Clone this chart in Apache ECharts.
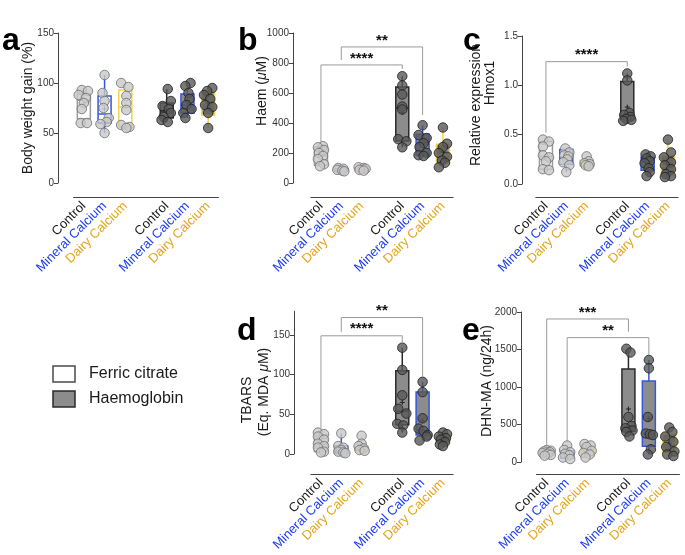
<!DOCTYPE html>
<html><head><meta charset="utf-8">
<script src="https://cdn.jsdelivr.net/npm/echarts@6/dist/echarts.min.js"></script>
<style>html,body{margin:0;padding:0;background:#fff}#c{width:685px;height:555px}</style>
</head><body><div id="c"></div>
<script>
// ---------- categories ----------
const categories = ['Control','Mineral Calcium','Dairy Calcium','','Control','Mineral Calcium','Dairy Calcium'];
const groupSlots = [0,1,2,4,5,6]; // Ferric citrate x3, Haemoglobin x3

// ---------- panel a : Body weight gain (%) ----------
const aPts = [[93,92,88,85,80,74,60,60],[108,90,82,75,65,61,59,50],[100,96,87,80,73,58,56,55],
              [94,82,77,74,70,66,63,61],[100,97,90,84,78,74,70,65],[95,92,88,84,78,76,70,55]];
const aJit = [[-0.1,0.2,-0.25,0.1,0,-0.1,-0.15,0.15],[0,-0.1,0,-0.05,0.2,0.1,-0.2,0],[-0.2,0.15,0.05,0.05,0.05,-0.2,0.2,0.05],
              [0.05,0.2,-0.2,0.1,0.2,-0.15,-0.25,0.05],[0.15,-0.1,0.05,0.1,-0.05,0.2,-0.2,-0.1],[0.2,-0.05,-0.2,0.1,-0.15,0.2,0,0]];
const aBox = [[60,64,83,89,93,79],[50,60,69,87,108,74],[55,56,76,93,100,78],
              [61,65,72,80,94,73],[65,70,78,89,100,82],[55,68,80,91,95,80]];
const aTicks = [0,50,100,150];

// ---------- panel b : Haem (uM) ----------
const bPts = [[245,238,220,200,180,160,125,112],[100,95,88,82,78],[105,100,95,88,82],
              [712,650,590,510,490,292,278,238],[385,320,300,265,240,200,185,180],[370,262,240,200,175,150,135,105]];
const bJit = [[0.1,-0.15,0.15,-0.1,0.1,-0.15,0.15,-0.05],[-0.15,0.1,-0.2,0.05,0.15],[-0.15,0.1,0.2,-0.1,0.1],
              [0,0,0,0,0,-0.2,0.2,0],[0,-0.2,0.2,0.05,-0.15,0.2,-0.2,0.05],[0,0.2,0,-0.2,0.2,-0.05,0.1,-0.2]];
const bBox = [[110,118,180,240,245,184],[75,78,85,95,100,88],[80,82,92,100,105,94],
              [238,280,500,640,712,470],[180,185,260,325,385,260],[105,130,185,258,370,205]];
const bTicks = [0,200,400,600,800,1000];

// ---------- panel c : Relative expression Hmox1 ----------
const cPts = [[0.45,0.43,0.38,0.29,0.27,0.23,0.15,0.14],[0.36,0.32,0.29,0.28,0.25,0.22,0.19,0.12],[0.28,0.23,0.21,0.2,0.19,0.18],
              [1.12,1.05,0.72,0.70,0.68,0.66,0.65,0.64],[0.30,0.28,0.26,0.23,0.21,0.16,0.12,0.08],[0.45,0.32,0.27,0.22,0.19,0.15,0.10,0.08,0.07]];
const cJit = [[-0.15,0.15,-0.15,-0.15,0.15,0,-0.15,0.15],[-0.05,0.15,-0.1,0.1,0.05,-0.15,0.15,0],[0,0.1,-0.1,0.15,-0.05,0.1],
              [0,0,0.1,-0.15,0.15,-0.05,0.2,-0.2],[-0.1,0.15,-0.05,0.1,-0.15,0.05,0.1,-0.05],[0,0.15,-0.2,0.15,-0.15,0.15,-0.1,0.15,-0.15]];
const cBox = [[0.14,0.15,0.28,0.43,0.45,0.29],[0.12,0.20,0.27,0.35,0.36,0.25],[0.18,0.18,0.20,0.24,0.28,0.21],
              [0.64,0.65,0.69,1.04,1.12,0.78],[0.08,0.14,0.22,0.27,0.30,0.20],[0.07,0.08,0.18,0.29,0.45,0.20]];
const cTicks = [0,0.5,1.0,1.5];

// ---------- panel d : TBARS ----------
const dPts = [[27,25,22,18,13,10,8,3,2],[26,10,8,5,3,2,1],[23,13,10,7,5,4],
              [134,106,74,57,51,38,36,27],[91,78,45,32,29,24,22,17],[27,25,22,20,18,15,12,10]];
const dJit = [[-0.15,0.15,-0.15,0.15,-0.15,0.15,-0.15,0.15,0],[0,-0.15,0.1,0,-0.15,0.1,0.2],[0,0,-0.15,0.1,-0.1,0.15],
              [0,0,0,-0.2,0.2,-0.25,0.05,0],[0,0,0,-0.2,0.05,0.25,0.2,-0.15],[0,0.2,-0.2,0.15,-0.1,0.1,-0.15,0]];
const dBox = [[2,3,12,24,27,14],[1,1,3,10,26,8],[3,4,6,9,23,10],
              [27,37,54,105,134,65],[17,24,30,78,91,42],[10,14,19,23,27,19]];
const dTicks = [0,50,100,150];

// ---------- panel e : DHN-MA ----------
const ePts = [[160,150,140,130,120,110,95,85],[220,160,130,110,90,60,40],[240,220,200,150,120,100,60],
              [1510,1460,600,480,450,420,400,340],[1360,1250,600,380,370,360,170,100],[460,400,340,270,200,140,100,80]];
const eJit = [[0,0.2,-0.15,0.15,-0.2,0.05,0.2,-0.1],[0,-0.15,0.15,-0.1,0.1,-0.2,0.15],[-0.15,0.15,-0.05,0.2,-0.2,0.1,-0.1],
              [-0.1,0.1,0,0.15,-0.15,0.2,-0.1,0.05],[0,0,-0.05,-0.15,0.05,0.2,0.1,-0.05],[0,0.15,-0.2,0.2,-0.15,0.25,-0.1,0.2]];
const eBox = [[85,100,125,150,160,124],[40,55,100,150,220,116],[60,80,140,200,240,156],
              [340,410,465,1240,1510,707],[100,210,375,1080,1360,574],[80,130,250,370,460,249]];
const eTicks = [0,500,1000,1500,2000];

// ---------- significance brackets: [fromSlot, toSlot, level, leftEnd, rightEnd] ----------
const bBrackets = [[0,4,787,273,760],[1,5,907,820,453]];
const bStars = ['****','**'];
const cBrackets = [[0,4,1.24,0.52,1.19]];
const cStars = ['****'];
const dBrackets = [[0,4,149,30,141],[1,5,172,154,97]];
const dStars = ['****','**'];
const eBrackets = [[0,4,1907,204,1738],[1,5,1658,271,1427]];
const eStars = ['***','**'];

// ---------- styles ----------
const FONT = '"Liberation Sans", Arial, Helvetica, sans-serif';
const boxFill = ['#ffffff','#ffffff','#ffffff','#8c8c8c','#8c8c8c','#9c998a'];
const boxStroke = ['#9a9a9a','#3556e0','#f2d447','#2a2a2a','#3556e0','#f2d447'];
const ptFe = {color:'#c8c8c8', borderColor:'#6e6e6e', borderWidth:1};
const ptHb = {color:'#595959', borderColor:'#1e1e1e', borderWidth:1};
const labelColors = {Control:'#1a1a1a','Mineral Calcium':'#1d3cf0','Dairy Calcium':'#e3a51b'};

const panels = [
  {pts:aPts, jit:aJit, box:aBox, ticks:aTicks, min:0, max:150, br:[], stars:[], fmt:v=>String(v),
   grid:{left:73.5, top:33, width:145, height:150}, yOff:15.5, xOff:14},
  {pts:bPts, jit:bJit, box:bBox, ticks:bTicks, min:0, max:1000, br:bBrackets, stars:bStars, fmt:v=>String(v),
   grid:{left:310.8, top:33, width:142.3, height:150}, yOff:17.8, xOff:14},
  {pts:cPts, jit:cJit, box:cBox, ticks:cTicks, min:0, max:1.5, br:cBrackets, stars:cStars, fmt:v=>v.toFixed(1),
   grid:{left:535.8, top:36, width:142.3, height:148}, yOff:13.8, xOff:13},
  {pts:dPts, jit:dJit, box:dBox, ticks:dTicks, min:0, max:180, br:dBrackets, stars:dStars, fmt:v=>String(v),
   grid:{left:310.8, top:311.2, width:142.3, height:142.8}, yOff:16.8, xOff:20},
  {pts:ePts, jit:eJit, box:eBox, ticks:eTicks, min:0, max:2000, br:eBrackets, stars:eStars, fmt:v=>String(v),
   grid:{left:536.5, top:312, width:143, height:150}, yOff:15.5, xOff:12}
];

function boxRender(params, api) {
  const gi = params.dataIndex;
  const x = api.value(0);
  const cx = api.coord([x, 0])[0];
  const yMin = api.coord([x, api.value(1)])[1];
  const yQ1 = api.coord([x, api.value(2)])[1];
  const yMed = api.coord([x, api.value(3)])[1];
  const yQ3 = api.coord([x, api.value(4)])[1];
  const yMax = api.coord([x, api.value(5)])[1];
  const yMean = api.coord([x, api.value(6)])[1];
  const w = 13, s = boxStroke[gi];
  const ln = {stroke:s, lineWidth:1.5};
  const meanCol = gi >= 3 ? '#222' : s;
  return {type:'group', children:[
    {type:'line', shape:{x1:cx, y1:yMax, x2:cx, y2:yQ3}, style:ln},
    {type:'line', shape:{x1:cx, y1:yQ1, x2:cx, y2:yMin}, style:ln},
    {type:'rect', shape:{x:cx-w/2, y:yQ3, width:w, height:yQ1-yQ3}, style:{fill:boxFill[gi], stroke:s, lineWidth:1.5}},
    {type:'line', shape:{x1:cx-w/2, y1:yMed, x2:cx+w/2, y2:yMed}, style:ln},
    {type:'line', shape:{x1:cx-2.5, y1:yMean, x2:cx+2.5, y2:yMean}, style:{stroke:meanCol, lineWidth:1}},
    {type:'line', shape:{x1:cx, y1:yMean-2.5, x2:cx, y2:yMean+2.5}, style:{stroke:meanCol, lineWidth:1}}
  ]};
}

function bracketRender(stars) {
  return function(params, api) {
    const a = api.coord([api.value(0), api.value(2)]);
    const b = api.coord([api.value(1), api.value(2)]);
    const l = api.coord([api.value(0), api.value(3)]);
    const r = api.coord([api.value(1), api.value(4)]);
    return {type:'group', children:[
      {type:'polyline', shape:{points:[[l[0],l[1]],[a[0],a[1]],[b[0],b[1]],[r[0],r[1]]]},
       style:{stroke:'#9a9a9a', lineWidth:1, fill:null}},
      {type:'text', x:(a[0]+b[0])/2, y:a[1]+1,
       style:{text:stars[params.dataIndex], fill:'#111', font:'bold 15px ' + FONT, align:'center', verticalAlign:'bottom'}}
    ]};
  };
}

const grids = [], xAxes = [], yAxes = [], series = [];
panels.forEach((p, k) => {
  grids.push(p.grid);
  xAxes.push({
    type:'category', gridIndex:k, data:categories, offset:p.xOff, position:'bottom',
    axisLine:{onZero:false, lineStyle:{color:'#444', width:1}},
    axisTick:{alignWithLabel:true, length:5, lineStyle:{color:'#444'}, interval:(i)=> i !== 3},
    axisLabel:{interval:0, rotate:45, margin:7, fontFamily:FONT, fontSize:13,
      formatter:(v)=> v ? '{' + (v==='Control'?'k':(v==='Mineral Calcium'?'m':'d')) + '|' + v + '}' : '',
      rich:{k:{color:labelColors['Control'], fontSize:13, fontFamily:FONT},
            m:{color:labelColors['Mineral Calcium'], fontSize:13, fontFamily:FONT},
            d:{color:labelColors['Dairy Calcium'], fontSize:13, fontFamily:FONT}}},
    splitLine:{show:false}
  });
  xAxes.push({type:'value', gridIndex:k, min:-0.5, max:6.5, show:false, axisLine:{onZero:false}});
  yAxes.push({
    type:'value', gridIndex:k, min:p.min, max:p.max, offset:p.yOff, position:'left',
    interval: p.ticks[1]-p.ticks[0],
    axisLine:{show:true, onZero:false, lineStyle:{color:'#444', width:1}},
    axisTick:{show:true, length:4, lineStyle:{color:'#444'}, customValues:p.ticks},
    axisLabel:{fontFamily:FONT, fontSize:10, color:'#333', margin:4, formatter:p.fmt, customValues:p.ticks},
    splitLine:{show:false}
  });
  series.push({
    type:'custom', xAxisIndex:2*k, yAxisIndex:k, z:2, renderItem:boxRender,
    encode:{x:0, y:[1,2,3,4,5]},
    data:p.box.map((b,i)=>[groupSlots[i]].concat(b))
  });
  const fe = [], hb = [];
  p.pts.forEach((arr, gi) => arr.forEach((v, j) => {
    (gi < 3 ? fe : hb).push([groupSlots[gi] + p.jit[gi][j], v]);
  }));
  series.push({type:'scatter', xAxisIndex:2*k+1, yAxisIndex:k, z:3, symbolSize:9.5, itemStyle:ptFe, data:fe, silent:true});
  series.push({type:'scatter', xAxisIndex:2*k+1, yAxisIndex:k, z:3, symbolSize:9.5, itemStyle:ptHb, data:hb, silent:true});
  if (p.br.length) {
    series.push({type:'custom', xAxisIndex:2*k, yAxisIndex:k, z:4, renderItem:bracketRender(p.stars),
      encode:{x:[0,1], y:[2]}, data:p.br});
  }
});

function vText(x, y, text, size, rich) {
  return {type:'text', x:x, y:y, rotation:Math.PI/2,
    style:{text:text, font:size+'px '+FONT, fill:'#1a1a1a', align:'center', verticalAlign:'middle', rich:rich}};
}
function letter(x, y, t) {
  return {type:'text', x:x, y:y, style:{text:t, font:'bold 32px '+FONT, fill:'#000', align:'left', verticalAlign:'alphabetic'}};
}
const ital = {i:{fontStyle:'italic', fontSize:14, fontFamily:FONT, fill:'#1a1a1a'}};

const chart = echarts.init(document.getElementById('c'), null, {renderer:'canvas'});
chart.setOption({
  animation:false,
  backgroundColor:'#fff',
  textStyle:{fontFamily:FONT},
  grid:grids, xAxis:xAxes, yAxis:yAxes, series:series,
  graphic:[
    letter(2, 25, 'a'), letter(238, 25, 'b'), letter(463, 25, 'c'), letter(237, 315, 'd'), letter(462, 315, 'e'),
    vText(28, 108, 'Body weight gain (%)', 14),
    vText(262, 91, 'Haem ({i|μ}M)', 14, ital),
    vText(476, 105, 'Relative expression', 14),
    vText(490, 83, 'Hmox1', 14),
    vText(247, 400, 'TBARS', 14),
    vText(264, 392, '(Eq. MDA {i|μ}M)', 14, ital),
    vText(487, 381, 'DHN-MA (ng/24h)', 14),
    {type:'rect', shape:{x:53, y:366, width:22, height:16}, style:{fill:'#fff', stroke:'#4a4a4a', lineWidth:1.5}},
    {type:'rect', shape:{x:53, y:391, width:22, height:16}, style:{fill:'#8c8c8c', stroke:'#2a2a2a', lineWidth:1.5}},
    {type:'text', x:89, y:374, style:{text:'Ferric citrate', font:'16px '+FONT, fill:'#1a1a1a', verticalAlign:'middle'}},
    {type:'text', x:89, y:399, style:{text:'Haemoglobin', font:'16px '+FONT, fill:'#1a1a1a', verticalAlign:'middle'}}
  ]
});
</script></body></html>
